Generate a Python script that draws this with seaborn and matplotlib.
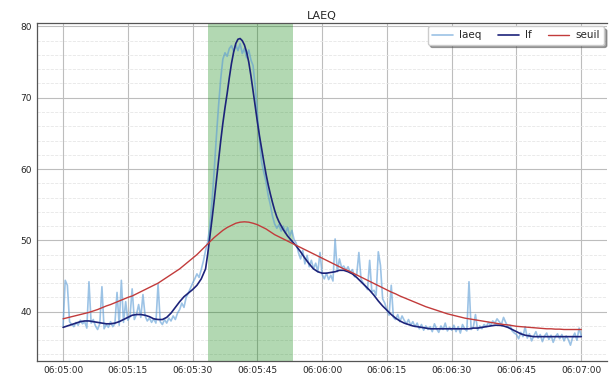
import numpy as np
import pandas as pd
import matplotlib
matplotlib.use("Agg")
import matplotlib.pyplot as plt
import matplotlib.dates as mdates
import seaborn as sns

start = pd.Timestamp("2024-01-01 06:05:00")

# laeq, one value every 0.5 s (06:05:00 -> 06:07:00)
laeq = [
    38.0, 44.4, 43.7, 38.6, 38.2, 37.9, 38.5, 38.1, 38.8, 38.3,
    38.6, 37.7, 44.2, 38.4, 38.9, 38.0, 37.5, 38.3, 43.5, 37.6,
    38.2, 37.8, 38.6, 37.9, 38.3, 42.7, 38.1, 44.4, 38.5, 41.4,
    38.8, 39.3, 43.2, 38.9, 39.6, 41.0, 39.2, 42.4, 39.4, 38.7,
    39.1, 38.5, 39.0, 38.4, 43.9, 38.6, 38.2, 38.9, 38.4, 39.1,
    38.7, 39.4, 38.9, 39.8, 40.3, 41.2, 40.6, 42.0, 42.6, 43.3,
    44.0, 44.6, 45.3, 44.8, 45.9, 47.1, 48.6, 49.8, 52.0, 55.5,
    59.8, 64.5, 68.8, 72.6, 75.4, 76.3, 75.8, 76.9, 77.3, 76.5,
    77.4, 76.6, 77.6, 76.2, 76.9, 75.6, 76.7, 75.3, 74.5, 71.5,
    67.8, 63.9, 60.9, 59.5, 58.2, 56.3, 55.0, 53.4, 52.3, 51.7,
    52.2, 51.3, 52.0, 51.0, 51.8, 50.6, 51.4, 50.1, 49.6, 48.3,
    47.4, 48.6, 46.7, 47.9, 46.3, 47.2, 46.0, 46.8, 45.6, 48.3,
    45.2, 44.6, 45.4, 44.5, 45.1, 44.3, 50.2, 45.6, 47.4, 46.2,
    46.4, 45.8, 46.3, 45.5, 45.9, 44.9, 45.2, 48.3, 44.6, 44.0,
    43.6, 43.1, 47.2, 42.8, 43.0, 42.3, 48.4, 46.5, 41.8, 41.2,
    40.2, 39.5, 43.7, 39.2, 38.9, 39.6, 38.6, 39.4, 38.8, 38.3,
    38.9, 38.1, 38.6, 37.9, 38.4, 37.6, 38.2, 37.4, 38.0, 37.5,
    37.9, 37.2, 38.3, 37.6, 37.1, 38.0, 37.5, 38.4, 37.3, 37.8,
    37.4, 38.1, 37.2, 37.9, 37.0, 38.2, 37.6, 37.3, 44.2, 37.5,
    37.8, 39.6, 37.4, 38.0, 37.6, 38.2, 37.9, 38.5, 38.1, 38.7,
    38.4, 39.0, 38.6, 38.2, 39.2, 38.5, 37.9, 38.1, 37.3, 37.0,
    36.8, 36.2, 37.1, 36.5, 37.9, 36.3, 36.9, 35.9, 36.6, 37.2,
    36.3, 36.8, 35.8, 36.6, 37.0, 36.1, 36.7, 35.7, 36.5, 36.9,
    36.2, 36.8, 35.9, 36.6, 36.1, 35.3, 36.4, 37.0, 36.0, 37.7,
    36.6,
]

# lf (smoothed): seconds after start and values, denser around the peak
lf_sec = (list(range(0, 33))
          + [33, 33.5, 34, 34.5, 35, 35.5, 36, 36.5, 37, 37.5, 38, 38.5,
             39, 39.5, 40, 40.5, 41, 41.5, 42, 42.5, 43, 43.5, 44, 44.5,
             45, 45.5, 46, 46.5, 47, 47.5, 48, 48.5, 49, 49.5]
          + list(range(50, 121)))
lf = [
    37.8, 38.0, 38.2, 38.4, 38.6, 38.7, 38.7, 38.6, 38.5, 38.4,
    38.3, 38.3, 38.4, 38.6, 38.9, 39.2, 39.5, 39.6, 39.6, 39.5,
    39.3, 39.0, 38.9, 38.9, 39.2, 39.8, 40.6, 41.4, 42.1, 42.6,
    43.1, 43.7, 44.6,
    46.0, 48.1, 50.5, 53.0, 55.6, 58.4, 61.2, 63.9, 66.4, 68.6,
    70.6, 72.8, 74.8, 76.4, 77.6, 78.2, 78.3, 78.0, 77.4, 76.4,
    75.0, 73.1, 71.0, 68.8, 66.6, 64.6, 62.8, 61.0, 59.3, 57.8,
    56.5, 55.3, 54.2, 53.3,
    52.6, 51.5, 50.6, 49.9, 49.2, 48.4, 47.5, 46.7, 46.0, 45.6,
    45.4, 45.4, 45.5, 45.6, 45.8, 45.8, 45.6, 45.3, 44.8, 44.2,
    43.6, 43.0, 42.3, 41.5, 40.8, 40.2, 39.6, 39.1, 38.7, 38.4,
    38.2, 38.0, 37.9, 37.8, 37.7, 37.6, 37.6, 37.6, 37.6, 37.6,
    37.6, 37.6, 37.6, 37.6, 37.6, 37.7, 37.7, 37.8, 37.9, 38.0,
    38.1, 38.1, 38.0, 37.8, 37.5, 37.2, 36.9, 36.7, 36.6, 36.5,
    36.5, 36.5, 36.5, 36.5, 36.5, 36.5, 36.5, 36.5, 36.5, 36.5,
    36.5,
]

# seuil (threshold), one value per second
seuil = [
    39.0, 39.15, 39.3, 39.45, 39.6, 39.75, 39.9, 40.1, 40.3, 40.55,
    40.8, 41.0, 41.25, 41.5, 41.75, 42.0, 42.2, 42.5, 42.8, 43.1,
    43.4, 43.7, 44.0, 44.4, 44.8, 45.2, 45.6, 46.0, 46.5, 47.0,
    47.5, 48.0, 48.6, 49.2, 49.8, 50.4, 50.9, 51.4, 51.8, 52.1,
    52.4, 52.55, 52.6, 52.55, 52.4, 52.2, 51.9, 51.6, 51.2, 50.8,
    50.5, 50.2, 49.9, 49.6, 49.3, 49.0, 48.7, 48.4, 48.1, 47.8,
    47.5, 47.2, 46.9, 46.6, 46.3, 46.0, 45.75, 45.45, 45.15, 44.85,
    44.55, 44.25, 43.95, 43.65, 43.35, 43.05, 42.75, 42.5, 42.2, 41.95,
    41.7, 41.45, 41.2, 40.95, 40.7, 40.5, 40.3, 40.1, 39.9, 39.7,
    39.55, 39.4, 39.25, 39.1, 39.0, 38.9, 38.8, 38.7, 38.6, 38.5,
    38.4, 38.3, 38.2, 38.15, 38.05, 37.95, 37.9, 37.85, 37.8, 37.75,
    37.7, 37.65, 37.6, 37.6, 37.55, 37.55, 37.5, 37.5, 37.5, 37.5,
    37.5,
]

# detected event (seconds after start)
event_start = 33.5
event_end = 53.2

t_laeq = start + pd.to_timedelta(np.arange(len(laeq)) * 0.5, unit="s")
t_lf = start + pd.to_timedelta(lf_sec, unit="s")
t_seuil = start + pd.to_timedelta(np.arange(len(seuil)), unit="s")

sns.set_style("white")
fig, ax = plt.subplots(figsize=(6.09, 3.74), dpi=100)
fig.subplots_adjust(left=0.061, right=0.997, bottom=0.036, top=0.938)

ax.axvspan(start + pd.Timedelta(seconds=event_start),
           start + pd.Timedelta(seconds=event_end),
           color="green", alpha=0.3, lw=0)

sns.lineplot(x=t_laeq, y=laeq, ax=ax, color="#5b9bd5", alpha=0.6, lw=1.2, label="laeq")
sns.lineplot(x=t_lf, y=lf, ax=ax, color="#1c237a", lw=1.2, label="lf")
sns.lineplot(x=t_seuil, y=seuil, ax=ax, color="#c23b3b", lw=1.0, label="seuil")

ax.xaxis.set_major_locator(mdates.SecondLocator(bysecond=range(0, 60, 15)))
ax.xaxis.set_minor_locator(mdates.SecondLocator(bysecond=range(0, 60, 5)))
ax.xaxis.set_major_formatter(mdates.DateFormatter("%H:%M:%S"))
ax.yaxis.set_minor_locator(matplotlib.ticker.MultipleLocator(2))

ax.grid(which="major", color="#bdbdbd", lw=0.8)
ax.grid(which="minor", axis="y", color="#e6e6e6", lw=0.6, ls="--")
ax.set_axisbelow(True)

ax.tick_params(axis="both", which="major", labelsize=6.5, length=2.5, pad=1.5,
               color="#555555")
ax.tick_params(axis="both", which="minor", length=1.5, color="#555555")
for side in ["left", "bottom", "top"]:
    ax.spines[side].set_color("#555555")
    ax.spines[side].set_linewidth(0.9)
ax.spines["right"].set_visible(False)

ax.set_title("LAEQ", fontsize=8, pad=3)
ax.set_xlabel("")
ax.set_ylabel("")
ax.legend(loc="upper right", ncol=3, fontsize=7.5, frameon=True, shadow=True,
          fancybox=True, handlelength=2.0, columnspacing=1.6, handletextpad=0.6,
          borderaxespad=0.3)

plt.savefig("out.png", dpi=100)
